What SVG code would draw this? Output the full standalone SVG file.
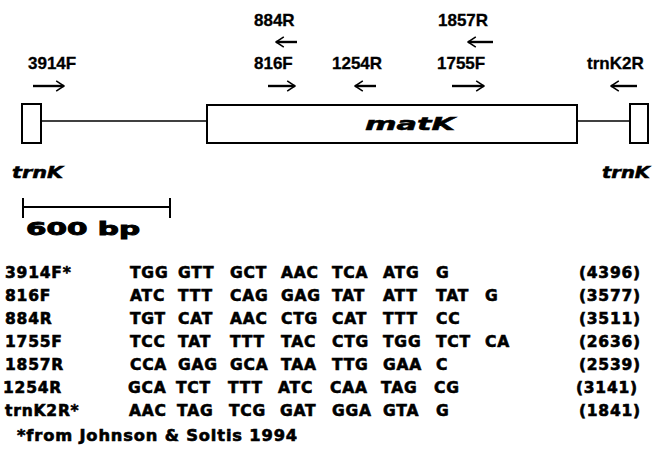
<svg xmlns="http://www.w3.org/2000/svg" width="653" height="457" viewBox="0 0 653 457">
<style>
.lbl{font-family:"Liberation Sans",Arial,sans-serif;font-weight:bold;font-size:17px;fill:#000;stroke:#000;stroke-width:0.3}
.gene{font-family:"DejaVu Sans",sans-serif;font-weight:bold;font-style:italic;fill:#000;stroke:#000;stroke-width:0.5}
.heavy{font-family:"DejaVu Sans",sans-serif;font-weight:bold;font-size:15.5px;letter-spacing:0.8px;fill:#000;stroke:#000;stroke-width:0.6}
.box{fill:#fff;stroke:#000;stroke-width:2}
.ln{stroke:#000;stroke-width:1.5;fill:none}
.arr{stroke:#000;stroke-width:2.4;fill:none;marker-end:url(#ah)}
</style>
<defs>
<marker id="ah" viewBox="0 0 10 10" refX="9" refY="5" markerWidth="5" markerHeight="5" orient="auto" markerUnits="strokeWidth">
<path d="M2.5,0.8 L9,5 L2.5,9.2" fill="none" stroke="#000" stroke-width="1.3"/>
</marker>
</defs>
<rect width="653" height="457" fill="#fff"/>

<g id="connectors">
<line class="ln" x1="41" y1="121" x2="207" y2="121"/>
<line class="ln" x1="577" y1="121" x2="630" y2="121"/>
</g>

<g id="trnK-left">
<rect class="box" x="22" y="104" width="19" height="39"/>
<text class="gene" x="12" y="178" font-size="15" textLength="51" lengthAdjust="spacingAndGlyphs">trnK</text>
</g>
<g id="matK">
<rect class="box" x="207" y="105" width="370" height="38"/>
<text class="gene" x="365" y="130" font-size="17.5" textLength="90" lengthAdjust="spacingAndGlyphs">matK</text>
</g>
<g id="trnK-right">
<rect class="box" x="630" y="104" width="18" height="39"/>
<text class="gene" x="602" y="178" font-size="15" textLength="48" lengthAdjust="spacingAndGlyphs">trnK</text>
</g>

<g id="primers">
<text class="lbl" x="254" y="26">884R</text>
<text class="lbl" x="438" y="26">1857R</text>
<path class="arr" d="M297,42 H276"/>
<path class="arr" d="M493,42 H468"/>
<text class="lbl" x="28" y="69">3914F</text>
<text class="lbl" x="254" y="69">816F</text>
<text class="lbl" x="332" y="69">1254R</text>
<text class="lbl" x="437" y="69">1755F</text>
<text class="lbl" x="587" y="69">trnK2R</text>
<path class="arr" d="M33,86 H64"/>
<path class="arr" d="M268,86 H295"/>
<path class="arr" d="M376,86 H355"/>
<path class="arr" d="M452,86 H484"/>
<path class="arr" d="M637,86 H611"/>
</g>

<g id="scale">
<path d="M23,198 V218 M170,198 V218 M23,207 H170" stroke="#000" stroke-width="2" fill="none"/>
<text x="26" y="235" font-family="DejaVu Sans,sans-serif" font-weight="bold" font-size="18" stroke="#000" stroke-width="0.9" textLength="114" lengthAdjust="spacingAndGlyphs">600 bp</text>
</g>

<g id="table" class="heavy">
<text y="278"><tspan x="5">3914F*</tspan><tspan x="130">TGG</tspan><tspan x="178">GTT</tspan><tspan x="230">GCT</tspan><tspan x="281">AAC</tspan><tspan x="332">TCA</tspan><tspan x="383">ATG</tspan><tspan x="436">G</tspan></text>
<text y="278" x="641" text-anchor="end">(4396)</text>
<text y="301"><tspan x="5">816F</tspan><tspan x="130">ATC</tspan><tspan x="178">TTT</tspan><tspan x="230">CAG</tspan><tspan x="281">GAG</tspan><tspan x="332">TAT</tspan><tspan x="383">ATT</tspan><tspan x="436">TAT</tspan><tspan x="485">G</tspan></text>
<text y="301" x="641" text-anchor="end">(3577)</text>
<text y="324"><tspan x="5">884R</tspan><tspan x="130">TGT</tspan><tspan x="178">CAT</tspan><tspan x="230">AAC</tspan><tspan x="281">CTG</tspan><tspan x="332">CAT</tspan><tspan x="383">TTT</tspan><tspan x="436">CC</tspan></text>
<text y="324" x="641" text-anchor="end">(3511)</text>
<text y="347"><tspan x="5">1755F</tspan><tspan x="130">TCC</tspan><tspan x="178">TAT</tspan><tspan x="230">TTT</tspan><tspan x="281">TAC</tspan><tspan x="332">CTG</tspan><tspan x="383">TGG</tspan><tspan x="436">TCT</tspan><tspan x="485">CA</tspan></text>
<text y="347" x="641" text-anchor="end">(2636)</text>
<text y="370"><tspan x="5">1857R</tspan><tspan x="130">CCA</tspan><tspan x="178">GAG</tspan><tspan x="230">GCA</tspan><tspan x="281">TAA</tspan><tspan x="332">TTG</tspan><tspan x="383">GAA</tspan><tspan x="436">C</tspan></text>
<text y="370" x="641" text-anchor="end">(2539)</text>
<text y="393"><tspan x="3">1254R</tspan><tspan x="128">GCA</tspan><tspan x="176">TCT</tspan><tspan x="228">TTT</tspan><tspan x="278">ATC</tspan><tspan x="330">CAA</tspan><tspan x="381">TAG</tspan><tspan x="434">CG</tspan></text>
<text y="393" x="638" text-anchor="end">(3141)</text>
<text y="416"><tspan x="5">trnK2R*</tspan><tspan x="129">AAC</tspan><tspan x="177">TAG</tspan><tspan x="229">TCG</tspan><tspan x="280">GAT</tspan><tspan x="332">GGA</tspan><tspan x="383">GTA</tspan><tspan x="436">G</tspan></text>
<text y="416" x="641" text-anchor="end">(1841)</text>
<text x="17" y="441" textLength="281" lengthAdjust="spacingAndGlyphs">*from Johnson &amp; Soltis 1994</text>
</g>
</svg>
